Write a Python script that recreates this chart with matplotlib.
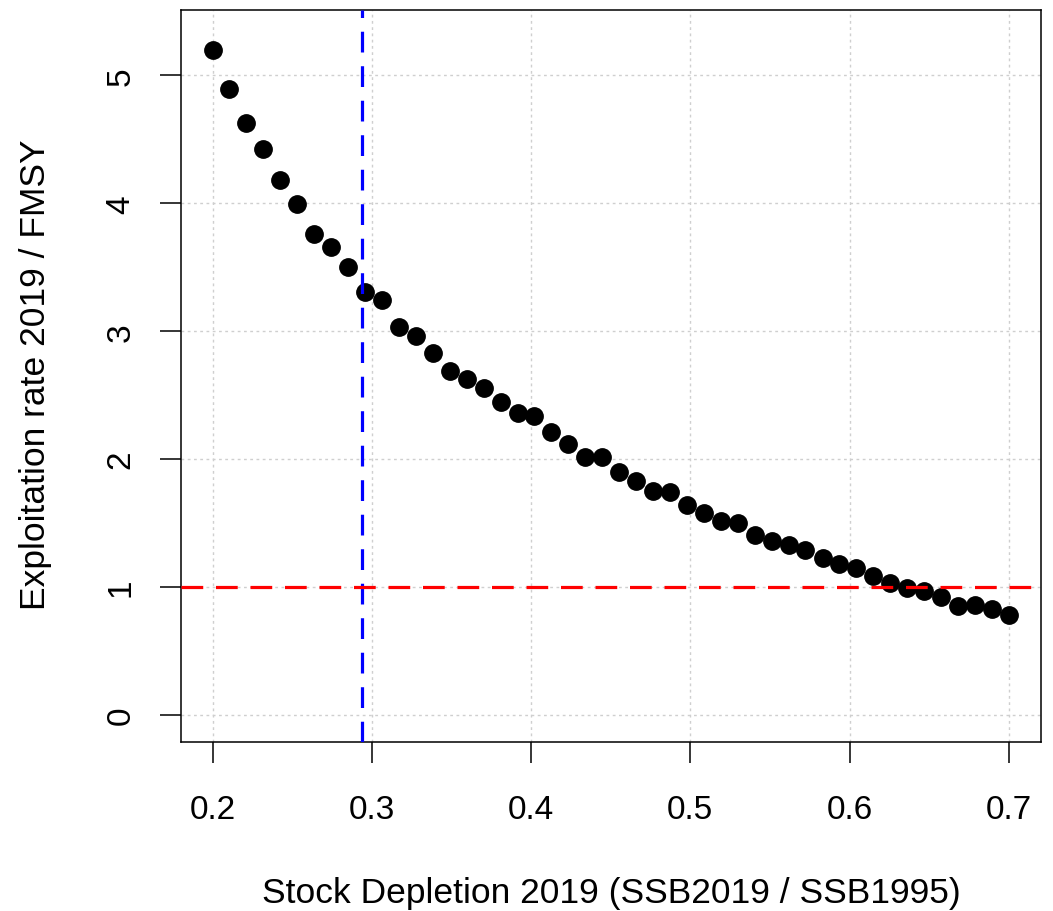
import matplotlib
matplotlib.use("Agg")
import matplotlib.pyplot as plt

plt.rcParams["font.family"] = ["Liberation Sans", "DejaVu Sans"]

# depletion (SSB2019 / SSB1995)
depletion = [0.2000, 0.2106, 0.2213, 0.2319, 0.2426, 0.2532, 0.2638, 0.2745,
             0.2851, 0.2957, 0.3064, 0.3170, 0.3277, 0.3383, 0.3489, 0.3596,
             0.3702, 0.3809, 0.3915, 0.4021, 0.4128, 0.4234, 0.4340, 0.4447,
             0.4553, 0.4660, 0.4766, 0.4872, 0.4979, 0.5085, 0.5191, 0.5298,
             0.5404, 0.5511, 0.5617, 0.5723, 0.5830, 0.5936, 0.6043, 0.6149,
             0.6255, 0.6362, 0.6468, 0.6574, 0.6681, 0.6787, 0.6894, 0.7000]

# F2019 / FMSY
f_ratio = [5.20, 4.89, 4.63, 4.42, 4.18, 3.99, 3.76, 3.66,
           3.50, 3.31, 3.24, 3.03, 2.96, 2.83, 2.69, 2.63,
           2.56, 2.45, 2.36, 2.34, 2.21, 2.12, 2.02, 2.02,
           1.90, 1.83, 1.75, 1.74, 1.64, 1.58, 1.52, 1.50,
           1.405, 1.36, 1.33, 1.29, 1.23, 1.18, 1.15, 1.09,
           1.03, 0.99, 0.97, 0.92, 0.85, 0.86, 0.83, 0.78]

x_ticks = [0.2, 0.3, 0.4, 0.5, 0.6, 0.7]
y_ticks = [0, 1, 2, 3, 4, 5]
depletion_ref = 0.294
f_ref = 1.0

fig = plt.figure(figsize=(10.53, 9.12), dpi=100)
ax = fig.add_axes([180.7 / 1053, 1 - 743.3 / 912, (1040.7 - 180.7) / 1053, (743.3 - 10.7) / 912])

ax.set_xlim(0.18, 0.72)
ax.set_ylim(-0.212, 5.512)
ax.set_xticks(x_ticks)
ax.set_yticks(y_ticks)
ax.set_xticklabels([str(v) for v in x_ticks])
ax.set_yticklabels([str(v) for v in y_ticks])

ax.grid(True, color="#cfcfcf", linestyle=(0, (2, 2.5)), linewidth=1.0)
ax.set_axisbelow(True)

ax.plot(depletion, f_ratio, "o", color="black", markersize=12.5, zorder=3)

ax.axvline(depletion_ref, color="blue", linewidth=2.3, dashes=(6.5, 4.3), zorder=4)
ax.axhline(f_ref, color="red", linewidth=2.3, dashes=(6.8, 4.0), zorder=4)

for s in ax.spines.values():
    s.set_linewidth(1.1)

ax.tick_params(axis="both", direction="out", length=15, width=1.1, labelsize=24)
ax.tick_params(axis="x", pad=22)
ax.tick_params(axis="y", pad=17, labelrotation=90)
for lab in ax.get_yticklabels():
    lab.set_va("center")

fig.text(611 / 1053, (912 - 903) / 912,
         "Stock Depletion 2019 (SSB2019 / SSB1995)",
         ha="center", va="baseline", fontsize=25.5)
fig.text(45 / 1053, 1 - 375 / 912, "Exploitation rate 2019 / FMSY",
         ha="center", va="baseline", rotation=90, rotation_mode="anchor",
         fontsize=25.5)

fig.savefig("out.png", dpi=100)
